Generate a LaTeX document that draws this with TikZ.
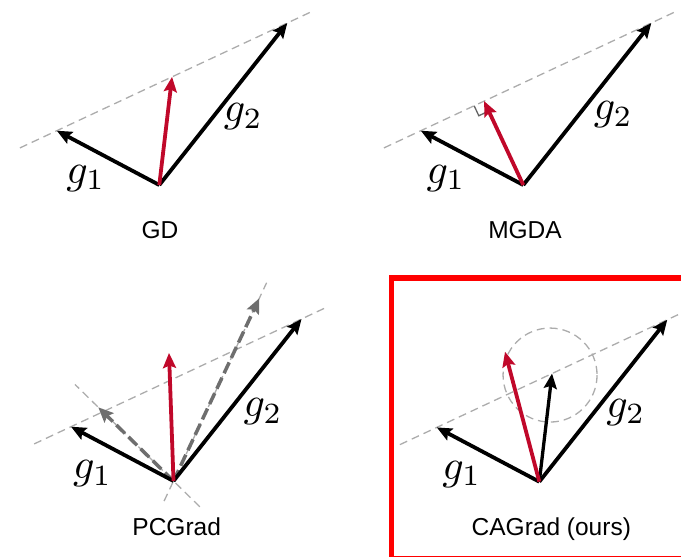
\documentclass[tikz,border=0pt]{standalone}
\usepackage[no-math]{fontspec}
\usepackage{graphicx}
\newfontfamily\capfont{Liberation Sans}
\usetikzlibrary{arrows.meta,calc}
\definecolor{gred}{RGB}{192,8,42}
\definecolor{guidegrey}{RGB}{172,172,172}
\definecolor{projgrey}{RGB}{110,110,110}
\definecolor{markgrey}{RGB}{100,100,100}
\definecolor{boxred}{RGB}{255,0,0}
\begin{document}
\begin{tikzpicture}[x=1pt,y=-1pt,
  guideline/.style={draw=guidegrey, line width=1.3pt, dash pattern=on 8pt off 5pt},
  vec/.style={line width=3.8pt, -{Stealth[length=15pt,width=13pt,inset=2.5pt]}},
  redvec/.style={vec, color=gred},
  projvec/.style={vec, line width=3.5pt, color=projgrey, dash pattern=on 12pt off 5pt},
  glabel/.style={inner sep=0pt},
  caption/.style={inner sep=0pt, anchor=base, font=\capfont\fontsize{24.5}{29}\selectfont}]
\useasboundingbox (0,0) rectangle (681,557);

% ---------- Panel 1: GD ----------
\coordinate (O1) at (159.3,185);
\coordinate (A1) at (56.8,130.7);
\coordinate (B1) at (287.3,23);
\coordinate (R1) at ($(A1)!0.5!(B1)$);
\coordinate (L1s) at ($(A1)!-0.16!(B1)$);
\coordinate (L1e) at ($(A1)!1.11!(B1)$);
\draw[guideline] (L1s) -- (L1e);
\draw[vec] (O1) -- (A1);
\draw[vec] (O1) -- (B1);
\draw[redvec] (O1) -- (R1);
\node[glabel] (ga1) at (85.8,178.3) {\scalebox{4.2}{$g_1$}};
\node[glabel] (gb1) at (243.3,117) {\scalebox{4.2}{$g_2$}};
\node[caption] (cap1) at (160,238) {GD};

% ---------- Panel 2: MGDA ----------
\coordinate (O2) at (523.3,185);
\coordinate (A2) at (420.8,130.7);
\coordinate (B2) at (651.3,23);
\coordinate (M2) at ($(A2)!(O2)!(B2)$);
\coordinate (L2s) at ($(A2)!-0.16!(B2)$);
\coordinate (L2e) at ($(A2)!1.11!(B2)$);
\coordinate (P2) at ($(M2)!11pt!(A2)$);
\coordinate (Q2) at ($(M2)!11pt!(O2)$);
\coordinate (C2) at ($(P2)+(Q2)-(M2)$);
\draw[guideline] (L2s) -- (L2e);
\draw[draw=markgrey, line width=1.3pt] (P2) -- (C2) -- (Q2);
\draw[vec] (O2) -- (A2);
\draw[vec] (O2) -- (B2);
\draw[redvec] (O2) -- (M2);
\node[glabel] (ga2) at (446,178.3) {\scalebox{4.2}{$g_1$}};
\node[glabel] (gb2) at (613.3,115) {\scalebox{4.2}{$g_2$}};
\node[caption] (cap2) at (525,238) {MGDA};

% ---------- Panel 3: PCGrad ----------
\coordinate (O3) at (173.5,481);
\coordinate (A3) at (71,426.7);
\coordinate (B3) at (301.5,319);
\coordinate (G1p) at (98.3,407.3);
\coordinate (G2p) at (259.3,298.3);
\coordinate (R3) at (169,353);
\coordinate (L3s) at ($(A3)!-0.16!(B3)$);
\coordinate (L3e) at ($(A3)!1.11!(B3)$);
\coordinate (N1s) at ($(O3)!-0.35!(G1p)$);
\coordinate (N1e) at ($(O3)!1.31!(G1p)$);
\coordinate (N2s) at ($(O3)!-0.11!(G2p)$);
\coordinate (N2e) at ($(O3)!1.085!(G2p)$);
\draw[guideline] (L3s) -- (L3e);
\draw[guideline] (N1s) -- (N1e);
\draw[guideline] (N2s) -- (N2e);
\draw[projvec] (O3) -- (G1p);
\draw[projvec] (O3) -- (G2p);
\draw[vec] (O3) -- (A3);
\draw[vec] (O3) -- (B3);
\draw[redvec] (O3) -- (R3);
\node[glabel] (ga3) at (92.5,474) {\scalebox{4.2}{$g_1$}};
\node[glabel] (gb3) at (263,412) {\scalebox{4.2}{$g_2$}};
\node[caption] (cap3) at (176.7,535) {PCGrad};

% ---------- Panel 4: CAGrad ----------
\coordinate (O4) at (539.3,481.7);
\coordinate (A4) at (436.8,427.4);
\coordinate (B4) at (667.3,319.7);
\coordinate (M4) at ($(A4)!0.5!(B4)$);
\coordinate (R4) at (505,351.7);
\coordinate (L4s) at ($(A4)!-0.16!(B4)$);
\coordinate (L4e) at ($(A4)!1.11!(B4)$);
\draw[guideline] (L4s) -- (L4e);
\draw[guideline] ($(M4)+(-2,1.5)$) circle[radius=47];
\draw[vec] (O4) -- (A4);
\draw[vec] (O4) -- (B4);
\draw[vec, line width=3.3pt] (O4) -- (M4);
\draw[redvec] (O4) -- (R4);
\node[glabel] (ga4) at (461.7,474.2) {\scalebox{4.2}{$g_1$}};
\node[glabel] (gb4) at (625.8,412.5) {\scalebox{4.2}{$g_2$}};
\node[caption] (cap4) at (551.3,535) {CAGrad (ours)};

% highlight box
\draw[boxred, line width=5.5pt] (391.5,278) rectangle (695,558.5);
\end{tikzpicture}
\end{document}
